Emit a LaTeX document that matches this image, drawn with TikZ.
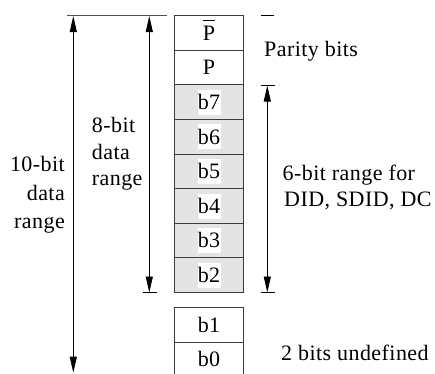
\documentclass[tikz,border=0pt]{standalone}
\usepackage{fontspec}
\setmainfont[LetterSpace=2]{Liberation Serif}
\usetikzlibrary{arrows.meta}
\definecolor{cellgray}{RGB}{228,228,228}
\definecolor{cellline}{RGB}{60,60,60}
\definecolor{rulegray}{RGB}{80,80,80}
\newcommand\myPbar{\leavevmode\rlap{\raisebox{19.5pt}{\rule{12pt}{1pt}}}P}
\begin{document}
\begin{tikzpicture}[x=1pt,y=-1pt,
  txt/.style={inner sep=0pt, font=\fontsize{22}{26}\selectfont},
  cell/.style={draw=cellline, line width=1.1pt, minimum width=68.6pt, minimum height=34.6pt,
    inner sep=0pt, text height=14.5pt, text depth=0pt, font=\fontsize{22}{26}\selectfont},
  textbg/.style={fill=white, inner sep=0pt, minimum width=23pt, minimum height=25pt,
    text height=14.5pt, text depth=0pt, font=\fontsize{22}{26}\selectfont},
  gcell/.style={cell, fill=cellgray, label={[textbg]center:#1}},
  dimarrow/.style={line width=0.9pt, {Triangle[length=16pt,width=7pt]}-{Triangle[length=16pt,width=7pt]}},
  tickline/.style={line width=1pt, draw=black},
]
\useasboundingbox (0,0) rectangle (435,373);

% cells
\node[cell] (pbar) at (209,33.0) {\myPbar};
\node[cell] (p) at (209,67.6) {P};
\node[gcell=b7] (b7) at (209,102.2) {};
\node[gcell=b6] (b6) at (209,136.8) {};
\node[gcell=b5] (b5) at (209,171.4) {};
\node[gcell=b4] (b4) at (209,206.0) {};
\node[gcell=b3] (b3) at (209,240.6) {};
\node[gcell=b2] (b2) at (209,275.2) {};
\node[cell] (b1) at (209,325.0) {b1};
\node[cell] (b0) at (209,359.6) {b0};

% top reference line and ticks
\coordinate (tl1) at (66.7,15.3);
\coordinate (tl2) at (166.7,15.3);
\draw[line width=1.2pt, draw=rulegray] (tl1) -- (tl2);
\coordinate (td1) at (261,15.7);
\coordinate (td2) at (274,15.7);
\draw[tickline] (td1) -- (td2);

% 10-bit arrow
\coordinate (ltop) at (73.3,16.0);
\coordinate (lbot) at (73.3,372.7);
\draw[dimarrow] (ltop) -- (lbot);

% 8-bit arrow
\coordinate (mtop) at (149.3,16.0);
\coordinate (mbot) at (149.3,292.5);
\draw[dimarrow] (mtop) -- (mbot);
\coordinate (mb1) at (143.3,292.7);
\coordinate (mb2) at (156.7,292.7);
\draw[tickline] (mb1) -- (mb2);

% 6-bit arrow
\coordinate (rtop) at (267.3,85.5);
\coordinate (rbot) at (267.3,292.5);
\draw[dimarrow] (rtop) -- (rbot);
\coordinate (rt1) at (260.7,85.3);
\coordinate (rt2) at (274.7,85.3);
\draw[tickline] (rt1) -- (rt2);
\coordinate (rb1) at (260.7,292.7);
\coordinate (rb2) at (274.7,292.7);
\draw[tickline] (rb1) -- (rb2);

% texts
\node[txt, anchor=base east] (t10a) at (65,171.7) {10-bit};
\node[txt, anchor=base east] (t10b) at (65,200.0) {data};
\node[txt, anchor=base east] (t10c) at (65,228.5) {range};

\node[txt, anchor=base west] (t8a) at (91.7,132.7) {8-bit};
\node[txt, anchor=base west] (t8b) at (91.7,159.3) {data};
\node[txt, anchor=base west] (t8c) at (91.7,185.5) {range};

\node[txt, anchor=base west] (par) at (264,56.7) {Parity bits};
\node[txt, anchor=base west] (six1) at (282.5,180.0) {6-bit range for};
\node[txt, anchor=base west] (six2) at (284,206.7) {DID, SDID, DC};
\node[txt, anchor=base west] (und) at (281,360.0) {2 bits undefined};
\end{tikzpicture}
\end{document}
